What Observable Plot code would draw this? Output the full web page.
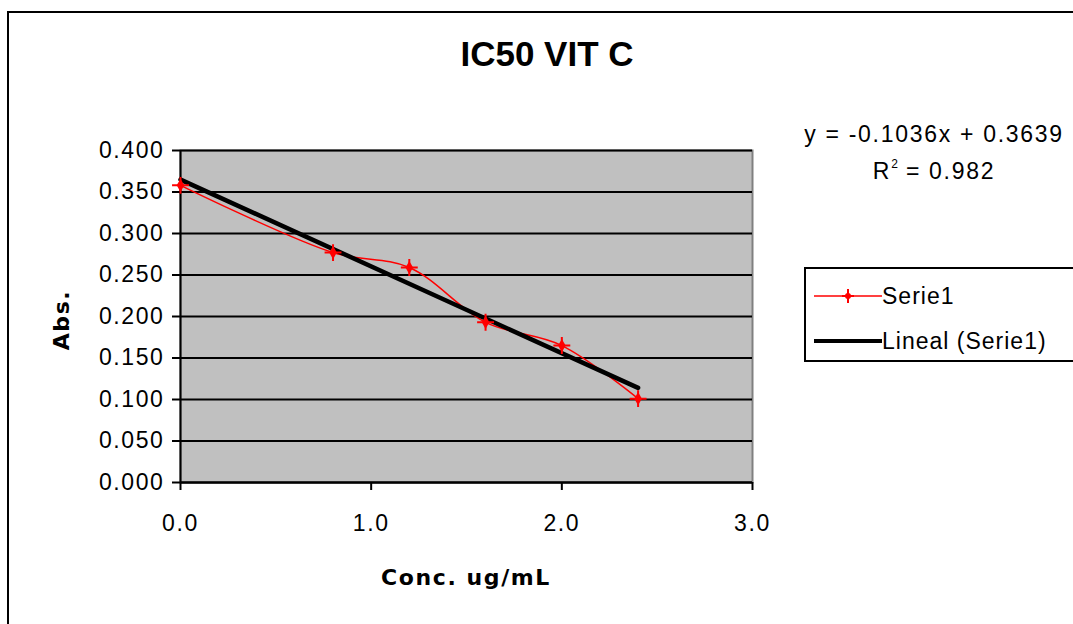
<!DOCTYPE html>
<html>
<head>
<meta charset="utf-8">
<script src="https://cdn.jsdelivr.net/npm/d3@7"></script>
<script src="https://cdn.jsdelivr.net/npm/@observablehq/plot@0.6"></script>
<style>
  html, body { margin: 0; padding: 0; background: #fff; overflow: hidden; }
  #wrap { position: relative; width: 1073px; height: 624px; overflow: hidden; font-family: "Liberation Sans", Arial, sans-serif; }
  #outer { position: absolute; left: 7px; top: 11px; width: 1200px; height: 800px; border: 2px solid #000; box-sizing: border-box; }
  #chart { position: absolute; left: 0; top: 0; }
  #chart svg text { letter-spacing: 1.6px; }
  .ov { position: absolute; white-space: nowrap; color: #000; }
  #title { left: 0; width: 1094px; top: 34px; text-align: center; font-family: "Liberation Sans", Arial, sans-serif; font-weight: bold; font-size: 35px; }
  #xlab { left: 180px; width: 572px; top: 565px; text-align: center; font-family: "DejaVu Sans", sans-serif; font-weight: bold; font-size: 22px; letter-spacing: 1.6px; }
  #ylab { left: 61px; top: 320px; transform: translate(-50%, -50%) rotate(-90deg); font-family: "DejaVu Sans", sans-serif; font-weight: bold; font-size: 22px; letter-spacing: 1.6px; }
  #eq { left: 798px; width: 272px; top: 119px; text-align: center; font-size: 23px; letter-spacing: 1.7px; line-height: 30px; }
  #legend { position: absolute; left: 804px; top: 267px; width: 300px; height: 95px; border: 2px solid #000; box-sizing: border-box; background: #fff; }
  .lrow { position: absolute; left: 8px; height: 30px; display: flex; align-items: center; font-size: 23px; letter-spacing: 1px; }
</style>
</head>
<body>
<div id="wrap">
  <div id="outer"></div>
  <div id="chart"></div>
  <div id="title" class="ov">IC50 VIT C</div>
  <div id="eq" class="ov">y = -0.1036x + 0.3639<br>R<sup style="font-size:12px;vertical-align:11px;letter-spacing:0">2</sup> = 0.982</div>
  <div id="ylab" class="ov">Abs.</div>
  <div id="xlab" class="ov">Conc. ug/mL</div>
  <div id="legend">
    <div class="lrow" style="top:12px;">
      <svg width="68" height="20"><line x1="0" y1="10" x2="68" y2="10" stroke="red" stroke-width="1.5"/><path d="M34,3 L34,17 M28,10 L40,10" stroke="red" stroke-width="2"/><circle cx="34" cy="10" r="3" fill="red"/></svg><span>Serie1</span>
    </div>
    <div class="lrow" style="top:57px;">
      <svg width="68" height="20"><line x1="0" y1="10" x2="68" y2="10" stroke="#000" stroke-width="4"/></svg><span>Lineal (Serie1)</span>
    </div>
  </div>
</div>
<script>
// Data
const conc = [0.0, 0.8, 1.2, 1.6, 2.0, 2.4];
const abs = [0.358, 0.277, 0.259, 0.193, 0.165, 0.101];
const yTicks = [0, 0.05, 0.1, 0.15, 0.2, 0.25, 0.3, 0.35, 0.4];
const xTicks = [0, 1, 2, 3];

const data = conc.map((c, i) => ({x: c, y: abs[i]}));

const plot = Plot.plot({
  width: 1073,
  height: 624,
  marginLeft: 180,
  marginRight: 321,
  marginTop: 150,
  marginBottom: 142,
  style: {fontFamily: "Liberation Sans, Arial, sans-serif", fontSize: "23px", background: "transparent", overflow: "visible"},
  x: {domain: [0, 3]},
  y: {domain: [0, 0.4]},
  marks: [
    Plot.frame({fill: "#c0c0c0", stroke: "#808080", strokeWidth: 2}),
    Plot.gridY(yTicks, {stroke: "#000", strokeOpacity: 1, strokeWidth: 2}),
    Plot.axisY(yTicks, {tickFormat: d3.format(".3f"), tickSize: 8, tickPadding: 8, label: null, fontSize: 23, strokeWidth: 2}),
    Plot.axisX(xTicks, {tickFormat: d3.format(".1f"), tickSize: 8, tickPadding: 24, label: null, fontSize: 23, strokeWidth: 2}),
    Plot.ruleX([0], {stroke: "#000", strokeWidth: 2}),
    Plot.ruleY([0], {stroke: "#000", strokeWidth: 2}),
    Plot.line(data, {x: "x", y: "y", stroke: "red", strokeWidth: 1.5, curve: "catmull-rom"}),
    Plot.linearRegressionY(data, {x: "x", y: "y", stroke: "#000", strokeWidth: 4.5, ci: 0}),
    Plot.dot(data, {x: "x", y: "y", symbol: "diamond", r: 4, fill: "red"}),
    Plot.dot(data, {x: "x", y: "y", symbol: "plus", r: 5.5, stroke: "red", strokeWidth: 2})
  ]
});
document.getElementById("chart").appendChild(plot);
</script>
</body>
</html>
